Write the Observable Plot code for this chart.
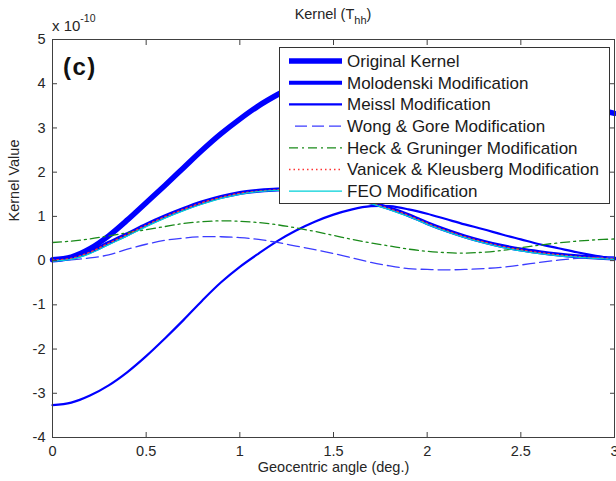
<!DOCTYPE html>
<html><head><meta charset="utf-8">
<script src="https://cdn.jsdelivr.net/npm/d3@7"></script>
<script src="https://cdn.jsdelivr.net/npm/@observablehq/plot@0.6"></script>
<style>
html,body{margin:0;padding:0;background:#fff;}
#chart{position:relative;width:616px;height:481px;overflow:hidden;}
</style></head><body><div id="chart"></div>
<script>
// Geocentric angle (deg.)
const angles = [0,0.1,0.2,0.3,0.4,0.5,0.6,0.7,0.8,0.9,1.0,1.1,1.2,1.3,1.4,1.5,1.6,1.7,1.8,1.9,2.0,2.1,2.2,2.3,2.4,2.5,2.6,2.7,2.8,2.9,3.0];
// Kernel values, x 10^-10
const originalKernel = [0.02,0.08,0.27,0.56,0.92,1.31,1.70,2.10,2.50,2.87,3.20,3.50,3.75,3.97,4.15,4.30,4.40,4.46,4.48,4.46,4.41,4.33,4.23,4.12,4.00,3.88,3.76,3.64,3.53,3.43,3.33];
const molodenski = [0.02,0.06,0.20,0.40,0.60,0.81,1.00,1.17,1.32,1.44,1.53,1.58,1.61,1.61,1.58,1.52,1.43,1.31,1.18,1.03,0.85,0.69,0.55,0.43,0.33,0.25,0.19,0.14,0.10,0.07,0.05];
const meissl = [-3.27,-3.21,-3.05,-2.82,-2.52,-2.16,-1.76,-1.34,-0.90,-0.49,-0.14,0.16,0.44,0.68,0.88,1.04,1.16,1.23,1.23,1.16,1.06,0.94,0.82,0.71,0.59,0.48,0.37,0.28,0.19,0.11,0.04];
const wongGore = [0.00,0.02,0.06,0.13,0.26,0.37,0.46,0.51,0.54,0.54,0.52,0.48,0.41,0.33,0.25,0.16,0.06,-0.04,-0.12,-0.18,-0.20,-0.21,-0.20,-0.18,-0.15,-0.10,-0.04,0.01,0.05,0.07,0.08];
const heckGruninger = [0.41,0.44,0.49,0.56,0.63,0.70,0.77,0.84,0.88,0.90,0.89,0.86,0.81,0.74,0.66,0.57,0.48,0.40,0.33,0.26,0.21,0.18,0.17,0.19,0.23,0.29,0.35,0.40,0.44,0.47,0.49];
const vanicekKleusberg = [0.01,0.05,0.19,0.39,0.59,0.80,0.99,1.16,1.31,1.43,1.52,1.57,1.60,1.60,1.57,1.51,1.42,1.30,1.17,1.02,0.84,0.68,0.54,0.42,0.32,0.24,0.18,0.13,0.09,0.06,0.04];
const feo = [-0.01,0.03,0.16,0.36,0.56,0.77,0.96,1.13,1.28,1.41,1.50,1.56,1.59,1.59,1.56,1.50,1.41,1.29,1.15,1.00,0.82,0.66,0.52,0.40,0.30,0.22,0.16,0.11,0.08,0.05,0.03];

const seriesNames = ["Original Kernel","Molodenski Modification","Meissl Modification","Wong & Gore Modification","Heck & Gruninger Modification","Vanicek & Kleusberg Modification","FEO Modification"];
const xTicks = [0,0.5,1,1.5,2,2.5,3];
const yTicks = [-4,-3,-2,-1,0,1,2,3,4,5];

const seriesValues = [originalKernel, molodenski, meissl, wongGore, heckGruninger, vanicekKleusberg, feo];
const styles = [
  {stroke:"#0000ff", strokeWidth:5.5},
  {stroke:"#0000ff", strokeWidth:4},
  {stroke:"#0000ff", strokeWidth:2.2},
  {stroke:"#3c3cff", strokeWidth:1.3, strokeDasharray:"12,5"},
  {stroke:"#1a8a1a", strokeWidth:1.3, strokeDasharray:"9,4,2,4"},
  {stroke:"#ff3333", strokeWidth:1.5, strokeDasharray:"1.5,3"},
  {stroke:"#00d0d8", strokeWidth:1.3}
];

const lineMarks = seriesValues.map((vals, k) =>
  Plot.line(angles.map((a, i) => ({x: a, y: vals[i]})), {x: "x", y: "y", curve: "catmull-rom", strokeLinejoin: "round", ...styles[k]})
);

const font = "'Liberation Sans', Arial, sans-serif";
const axisColor = "#404040";
const plot = Plot.plot({
  width: 616, height: 481,
  marginLeft: 52, marginRight: 2, marginTop: 39, marginBottom: 44,
  style: {fontFamily: font, fontSize: "14.5px", color: "#262626", background: "#fff"},
  x: {domain: [0, 3]},
  y: {domain: [-4, 5]},
  marks: [
    ...lineMarks,
    Plot.frame({stroke: axisColor}),
    // labels
    Plot.axisX(xTicks, {anchor: "bottom", tickSize: 0, tickPadding: 8, label: null, tickFormat: d => String(d)}),
    Plot.axisY(yTicks, {anchor: "left", tickSize: 0, tickPadding: 7, label: null, tickFormat: d => String(d)}),
    // inward ticks on all four sides
    Plot.axisX(xTicks, {anchor: "bottom", tickSize: 5, dy: -5, label: null, stroke: axisColor, tickFormat: () => ""}),
    Plot.axisX(xTicks, {anchor: "top", tickSize: 5, dy: 5, label: null, stroke: axisColor, tickFormat: () => ""}),
    Plot.axisY(yTicks, {anchor: "left", tickSize: 5, dx: 5, label: null, stroke: axisColor, tickFormat: () => ""}),
    Plot.axisY(yTicks, {anchor: "right", tickSize: 5, dx: -5, label: null, stroke: axisColor, tickFormat: () => ""}),
    Plot.text(["Geocentric angle (deg.)"], {frameAnchor: "bottom", dy: 34, fontSize: 14.5}),
    Plot.text(["Kernel Value"], {frameAnchor: "left", dx: -38, dy: -17, rotate: -90, fontSize: 14.5})
  ]
});

const svg = d3.select(plot);
// panel tag
svg.append("text").attr("x", 63).attr("y", 75).attr("text-anchor", "start")
  .attr("font-family", font).attr("font-size", 24).attr("font-weight", "bold")
  .attr("letter-spacing", 1.5).attr("fill", "#111").text("(c)");
// title with subscript
const title = svg.append("text").attr("x", 333).attr("y", 18.5).attr("text-anchor", "middle")
  .attr("font-family", font).attr("font-size", 14.5).attr("fill", "#262626");
title.append("tspan").text("Kernel (T");
title.append("tspan").attr("font-size", 11).attr("dy", 5).text("hh");
title.append("tspan").attr("dy", -5).text(")");
// exponent label
const ex = svg.append("text").attr("x", 52).attr("y", 31).attr("text-anchor", "start")
  .attr("font-family", font).attr("font-size", 15).attr("fill", "#262626");
ex.append("tspan").text("x 10");
ex.append("tspan").attr("font-size", 10.5).attr("dy", -9).text("-10");

// legend
const lg = svg.append("g");
lg.append("rect").attr("x", 279.5).attr("y", 47.5).attr("width", 330).attr("height", 156)
  .attr("fill", "#fff").attr("stroke", "#333").attr("stroke-width", 1);
seriesNames.forEach((name, i) => {
  const y = 61 + i * 21.7;
  const st = styles[i];
  lg.append("line").attr("x1", i === 3 ? 295 : 289).attr("x2", 342).attr("y1", y).attr("y2", y)
    .attr("stroke", st.stroke).attr("stroke-width", st.strokeWidth)
    .attr("stroke-dasharray", st.strokeDasharray || null);
  lg.append("text").attr("x", 347).attr("y", y).attr("dy", "0.35em").attr("text-anchor", "start")
    .attr("font-family", font).attr("font-size", 17).attr("fill", "#1a1a1a").text(name);
});

document.getElementById("chart").appendChild(plot);
</script>
</body></html>
